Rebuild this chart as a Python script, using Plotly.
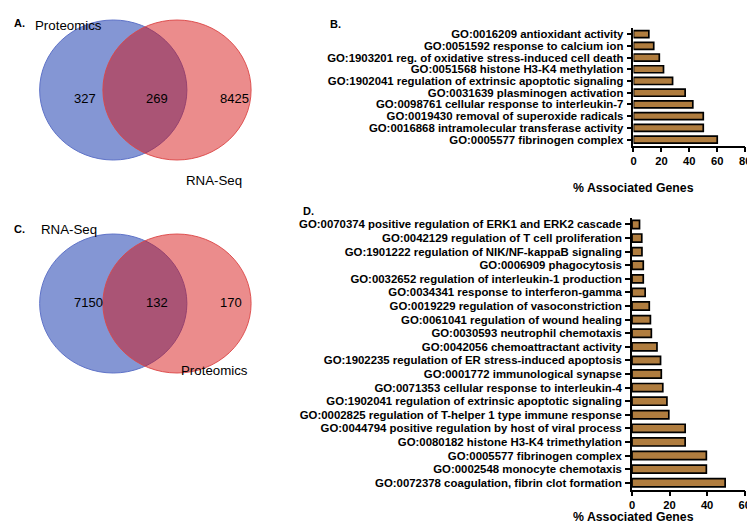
import plotly.graph_objects as go

W, H = 755, 524

# ---------------- data ----------------
venn_a_labels = ["Proteomics", "RNA-Seq"]
venn_a_counts = [327, 269, 8425]
venn_c_labels = ["RNA-Seq", "Proteomics"]
venn_c_counts = [7150, 132, 170]

b_terms = [
    "GO:0016209 antioxidant activity",
    "GO:0051592 response to calcium ion",
    "GO:1903201 reg. of oxidative stress-induced cell death",
    "GO:0051568 histone H3-K4 methylation",
    "GO:1902041 regulation of extrinsic apoptotic signaling",
    "GO:0031639 plasminogen activation",
    "GO:0098761 cellular response to interleukin-7",
    "GO:0019430 removal of superoxide radicals",
    "GO:0016868 intramolecular transferase activity",
    "GO:0005577 fibrinogen complex",
]
b_values = [11, 14.5, 18.5, 21.5, 28, 37, 42.5, 50, 50, 60]

d_terms = [
    "GO:0070374 positive regulation of ERK1 and ERK2 cascade",
    "GO:0042129 regulation of T cell proliferation",
    "GO:1901222 regulation of NIK/NF-kappaB signaling",
    "GO:0006909 phagocytosis",
    "GO:0032652 regulation of interleukin-1 production",
    "GO:0034341 response to interferon-gamma",
    "GO:0019229 regulation of vasoconstriction",
    "GO:0061041 regulation of wound healing",
    "GO:0030593 neutrophil chemotaxis",
    "GO:0042056 chemoattractant activity",
    "GO:1902235 regulation of ER stress-induced apoptosis",
    "GO:0001772 immunological synapse",
    "GO:0071353 cellular response to interleukin-4",
    "GO:1902041 regulation of extrinsic apoptotic signaling",
    "GO:0002825 regulation of T-helper 1 type immune response",
    "GO:0044794 positive regulation by host of viral process",
    "GO:0080182 histone H3-K4 trimethylation",
    "GO:0005577 fibrinogen complex",
    "GO:0002548 monocyte chemotaxis",
    "GO:0072378 coagulation, fibrin clot formation",
]
d_values = [4, 5.2, 5.3, 6, 6, 7, 9.2, 9.8, 10.3, 13.3, 15.2, 15.6, 16.4, 18.6, 19.6,
            28.3, 28.3, 39.6, 39.6, 49.6]

x_ticks_b = [0, 20, 40, 60, 80]
x_ticks_d = [0, 20, 40, 60]
x_title = "% Associated Genes"

# ---------------- helpers ----------------
def px(x):
    return x / W

def py(y):
    return 1 - y / H

BAR_COLOR = "#B07D3F"
FONT = "Liberation Sans, Arial, sans-serif"

fig = go.Figure()

fig.add_trace(go.Bar(
    x=b_values, y=b_terms, orientation="h", xaxis="x", yaxis="y",
    marker=dict(color=BAR_COLOR, line=dict(color="black", width=1.7)),
    width=0.6, showlegend=False,
))
fig.add_trace(go.Bar(
    x=d_values, y=d_terms, orientation="h", xaxis="x2", yaxis="y2",
    marker=dict(color=BAR_COLOR, line=dict(color="black", width=1.7)),
    width=0.6, showlegend=False,
))

cat_font = dict(family=FONT, size=11.4, color="black", weight=700)
tick_font = dict(family=FONT, size=11.2, color="black", weight=700)
title_font = dict(family=FONT, size=12.3, color="black", weight=700)

def xaxis_cfg(domain, rng, ticks, anchor):
    return dict(
        domain=domain, range=rng, anchor=anchor, tickmode="array", tickvals=ticks,
        showgrid=False, zeroline=False, showline=True, linecolor="black", linewidth=1.6,
        ticks="outside", ticklen=5, tickwidth=1.6, tickcolor="black",
        tickfont=tick_font, ticklabelstandoff=-1,
    )

def yaxis_cfg(domain, anchor, cats):
    return dict(
        domain=domain, anchor=anchor, autorange="reversed", type="category",
        tickmode="array", tickvals=cats, ticktext=cats,
        showgrid=False, zeroline=False, showline=True, linecolor="black", linewidth=1.6,
        ticks="outside", ticklen=5, tickwidth=1.6, tickcolor="black",
        tickfont=cat_font, ticklabelstandoff=1,
    )

fig.update_layout(
    width=W, height=H, margin=dict(l=0, r=0, t=0, b=0),
    paper_bgcolor="white", plot_bgcolor="white", bargap=0.4,
    xaxis=xaxis_cfg([px(630), px(743)], [0, 80], x_ticks_b, "y"),
    yaxis=yaxis_cfg([py(137.5), py(20.2)], "x", b_terms),
    xaxis2=xaxis_cfg([px(628.5), px(742.5)], [0, 60], x_ticks_d, "y2"),
    yaxis2=yaxis_cfg([py(481.5), py(209.7)], "x2", d_terms),
)

# ---------------- Venn diagrams ----------------
BLUE_FILL = "rgb(132,150,212)"
BLUE_LINE = "rgb(95,115,200)"
RED_FILL = "rgba(212,10,10,0.47)"
RED_LINE = "rgba(220,70,70,0.9)"

def venn(cy, ry, labels, counts, label_pos):
    shapes = [
        dict(type="circle", xref="paper", yref="paper",
             x0=px(29), x1=px(178), y0=py(cy + ry), y1=py(cy - ry),
             fillcolor=BLUE_FILL, line=dict(color=BLUE_LINE, width=1), layer="above"),
        dict(type="circle", xref="paper", yref="paper",
             x0=px(93), x1=px(243), y0=py(cy + ry), y1=py(cy - ry),
             fillcolor=RED_FILL, line=dict(color=RED_LINE, width=1), layer="above"),
    ]
    anns = []
    for xx, c in zip([62, 135, 210], counts):
        anns.append(dict(x=px(xx), y=py(cy - 1), xref="paper", yref="paper", text=str(c),
                         showarrow=False, font=dict(family=FONT, size=13, color="black")))
    for (lx, ly), t in zip(label_pos, labels):
        anns.append(dict(x=px(lx), y=py(ly), xref="paper", yref="paper", text=t,
                         showarrow=False, xanchor="left",
                         font=dict(family=FONT, size=13.3, color="black")))
    return shapes, anns

sa, aa = venn(82, 70, venn_a_labels, venn_a_counts, [(22, 8), (175, 163)])
sc, ac = venn(295.5, 69.5, venn_c_labels, venn_c_counts, [(28, 221), (170, 372)])

extra = []
for t, x, y in [("A.", 1, 7), ("B.", 321, 8), ("C.", 1, 221), ("D.", 293, 203)]:
    extra.append(dict(x=px(x), y=py(y), xref="paper", yref="paper", text=t,
                      showarrow=False, xanchor="left",
                      font=dict(family=FONT, size=11, color="black", weight=700)))
for y in [172, 516.5]:
    extra.append(dict(x=px(692.5), y=py(y), xref="paper", yref="paper", text=x_title,
                      showarrow=False, font=title_font, borderpad=0))

fig.update_layout(shapes=sa + sc, annotations=aa + ac + extra)

fig.write_html("out.html")
